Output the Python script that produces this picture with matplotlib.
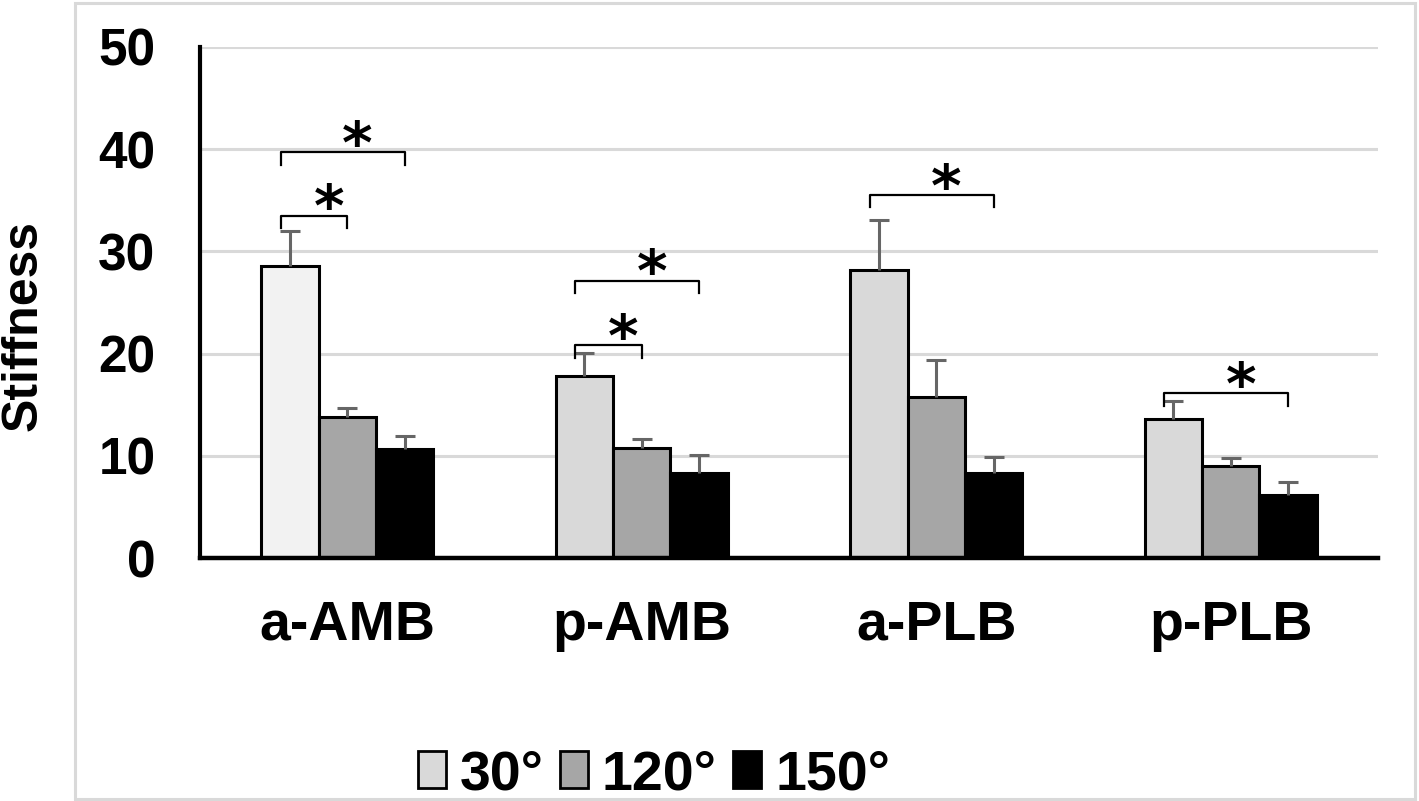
import numpy as np
import matplotlib
matplotlib.use("Agg")
import matplotlib.pyplot as plt
from matplotlib.patches import Rectangle

plt.rcParams['font.family'] = ['Liberation Sans', 'DejaVu Sans']
plt.rcParams['font.weight'] = 'bold'

# data
categories = ['a-AMB', 'p-AMB', 'a-PLB', 'p-PLB']
series = ['30°', '120°', '150°']
mean_30 = [28.6, 17.8, 28.2, 13.6]
mean_120 = [13.8, 10.8, 15.8, 9.0]
mean_150 = [10.7, 8.3, 8.3, 6.2]
sd_30 = [3.4, 2.3, 4.9, 1.8]
sd_120 = [0.9, 0.8, 3.6, 0.8]
sd_150 = [1.2, 1.8, 1.6, 1.2]
# significance brackets: (category, series a, series b, bracket height)
sig_pairs = [(0, 0, 1, 33.5), (0, 0, 2, 39.7),
             (1, 0, 1, 20.8), (1, 0, 2, 27.1),
             (2, 0, 2, 35.5), (3, 0, 2, 16.1)]

means = [mean_30, mean_120, mean_150]
sds = [sd_30, sd_120, sd_150]

fig = plt.figure(figsize=(14.19, 8.01), dpi=100)
ax = fig.add_axes([200 / 1419, 1 - 558 / 801, 1178 / 1419, 511 / 801])

# border round the chart
fig.patches.append(Rectangle((75 / 1419, 2 / 801), 1340 / 1419, 796 / 801,
                             transform=fig.transFigure, fill=False,
                             edgecolor='#d9d9d9', lw=2.2, zorder=0))

x = np.arange(len(categories))
w = 0.195
offsets = [-w, 0, w]
fills = [['#f2f2f2', '#d9d9d9', '#d9d9d9', '#d9d9d9'], '#a6a6a6', '#000000']

handles = []
for k in range(3):
    ax.bar(x + offsets[k], means[k], w, color=fills[k], edgecolor='black',
           linewidth=2.2, zorder=2)
    handles.append(Rectangle((0, 0), 1, 1, facecolor=fills[k] if k else '#d9d9d9',
                             edgecolor='black', linewidth=2))
    eb = ax.errorbar(x + offsets[k], means[k],
                     yerr=[np.zeros(len(categories)), sds[k]],
                     fmt='none', ecolor='#666666', elinewidth=2.2,
                     capsize=7, capthick=2.2, zorder=3)
    eb[1][0].set_visible(False)  # no lower cap

# brackets with stars
for c, a, bb, h in sig_pairs:
    x0 = x[c] + offsets[a] - 0.03
    x1 = x[c] + offsets[bb]
    ax.plot([x0, x0, x1, x1], [h - 1.2, h, h, h - 1.2], color='black',
            lw=1.6, zorder=4, solid_joinstyle='round')
    ax.text((x0 + x1) / 2 + 0.05, h + 0.6, '*', ha='center', va='center',
            fontsize=42, fontweight='bold', family='DejaVu Sans', zorder=4)

ax.set_xlim(-0.5, len(categories) - 0.5)
ax.set_ylim(0, 50)
ax.set_yticks([0, 10, 20, 30, 40, 50])
ax.yaxis.grid(True, color='#d9d9d9', lw=2.2)
ax.set_axisbelow(True)
for s in ['top', 'right']:
    ax.spines[s].set_visible(False)
ax.spines['left'].set_linewidth(3)
ax.spines['bottom'].set_linewidth(3.2)
ax.spines['bottom'].set_zorder(5)
ax.tick_params(axis='both', length=0)
ax.tick_params(axis='y', labelsize=37, pad=32)
ax.tick_params(axis='x', labelsize=40, pad=30)
ax.set_xticks(x)
ax.set_xticklabels(categories)

fig.text(24 / 1419, 1 - 326 / 801, 'Stiffness', rotation=90, ha='center',
         va='center', fontsize=36, fontweight='bold')

fig.legend(handles, series, loc='lower center', ncol=3,
           bbox_to_anchor=(654 / 1419, -0.035), frameon=False,
           prop={'weight': 'bold', 'size': 40},
           handlelength=0.5, handleheight=0.65, handletextpad=0.25,
           columnspacing=0.3, borderpad=0)

fig.savefig('out.png', dpi=100)
